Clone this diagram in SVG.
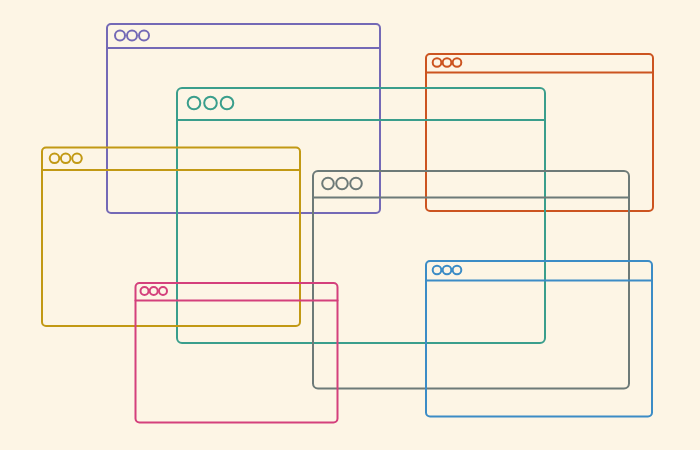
<svg xmlns="http://www.w3.org/2000/svg" width="700" height="450" viewBox="0 0 700 450">
<style>
.w{fill:none;stroke-width:2;stroke-linecap:round;stroke-linejoin:round}
.purple{stroke:#7469b6}
.teal{stroke:#3a9e8c}
.orange{stroke:#cc5420}
.gray{stroke:#6d7a78}
.yellow{stroke:#c29914}
.pink{stroke:#d4407c}
.blue{stroke:#3c8cc6}
</style>
<rect width="700" height="450" fill="#fdf5e5"/>
<g id="window-purple" class="w purple">
<rect x="107" y="24" width="273" height="189" rx="4"/>
<line x1="107" y1="48" x2="380" y2="48"/>
<circle cx="120" cy="35.5" r="5"/><circle cx="132" cy="35.5" r="5"/><circle cx="144" cy="35.5" r="5"/>
</g>
<g id="window-orange" class="w orange">
<rect x="426" y="54" width="227" height="157" rx="4"/>
<line x1="426" y1="72.5" x2="653" y2="72.5"/>
<circle cx="437" cy="62.5" r="4.3"/><circle cx="447" cy="62.5" r="4.3"/><circle cx="457" cy="62.5" r="4.3"/>
</g>
<g id="window-teal" class="w teal">
<rect x="177" y="88" width="368" height="255" rx="5"/>
<line x1="177" y1="120" x2="545" y2="120"/>
<circle cx="194" cy="103" r="6.3"/><circle cx="210.5" cy="103" r="6.3"/><circle cx="227" cy="103" r="6.3"/>
</g>
<g id="window-yellow" class="w yellow">
<rect x="42" y="147.5" width="258" height="178.5" rx="4"/>
<line x1="42" y1="170" x2="300" y2="170"/>
<circle cx="54.5" cy="158.3" r="4.8"/><circle cx="65.7" cy="158.3" r="4.8"/><circle cx="77" cy="158.3" r="4.8"/>
</g>
<g id="window-gray" class="w gray">
<rect x="313" y="171" width="316" height="217.5" rx="5"/>
<line x1="313" y1="197.5" x2="629" y2="197.5"/>
<circle cx="328" cy="183.5" r="5.8"/><circle cx="342" cy="183.5" r="5.8"/><circle cx="356" cy="183.5" r="5.8"/>
</g>
<g id="window-pink" class="w pink">
<rect x="135.5" y="283" width="202" height="139.5" rx="4"/>
<line x1="135.5" y1="300.5" x2="337.5" y2="300.5"/>
<circle cx="144.5" cy="291" r="4"/><circle cx="153.7" cy="291" r="4"/><circle cx="163" cy="291" r="4"/>
</g>
<g id="window-blue" class="w blue">
<rect x="426" y="261" width="226" height="155.5" rx="4"/>
<line x1="426" y1="280.5" x2="652" y2="280.5"/>
<circle cx="437" cy="270" r="4.3"/><circle cx="447" cy="270" r="4.3"/><circle cx="457" cy="270" r="4.3"/>
</g>
<g id="connectors"/>
</svg>
